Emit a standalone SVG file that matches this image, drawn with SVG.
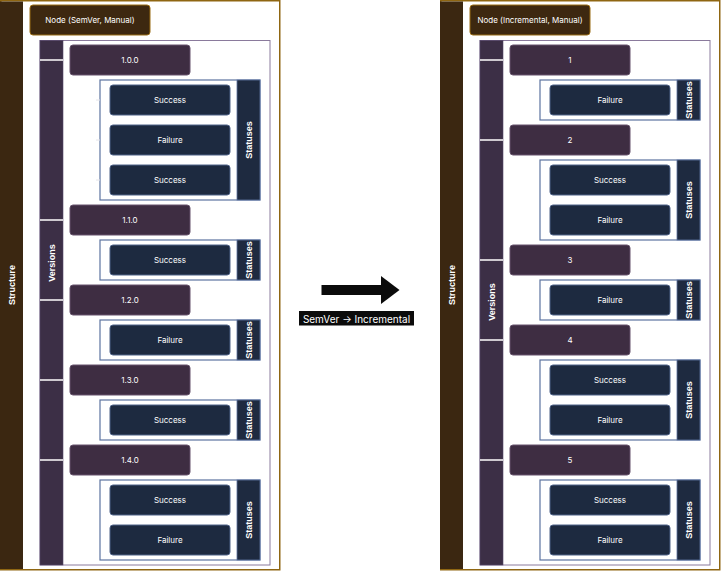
<svg xmlns="http://www.w3.org/2000/svg" width="721" height="572" viewBox="0 0 721 572">
<style>
.panel{fill:#ffffff;stroke:#8f6612;stroke-width:1.5}
.sband{fill:#3b2711}
.hdr{fill:#3d2810;stroke:#9a6c14;stroke-width:1}
.vbox{fill:#ffffff;stroke:#8a7a9c;stroke-width:1}
.vband{fill:#3c2f46;stroke:#55476a;stroke-width:0.6}
.ver{fill:#3e2d42;stroke:#66536c;stroke-width:1}
.sbox{fill:#ffffff;stroke:#5c73a0;stroke-width:1.2}
.stband{fill:#1e2a40;stroke:#5c73a0;stroke-width:0.8}
.st{fill:#1d2a40;stroke:#4e6288;stroke-width:1}
.sep{stroke:#ffffff;stroke-width:1.5}
.tick{stroke:#e4e4ea;stroke-width:1}
.lbl{font-family:Inter,"Liberation Sans",sans-serif;font-size:8px;fill:#ffffff;text-anchor:middle;dominant-baseline:central}
.blbl{font-family:"Liberation Sans",Arial,sans-serif;font-size:9px;font-weight:bold;fill:#ffffff;text-anchor:middle;dominant-baseline:central}
</style>
<defs>
<g id="dummy"/>
</defs>

<!-- LEFT PANEL -->
<g id="left-structure">
<rect class="panel" x="0.75" y="0.75" width="279" height="569"/>
<rect class="sband" x="0" y="1.5" width="23" height="567.5"/>
<text class="blbl" transform="translate(11.5,285) rotate(-90)">Structure</text>
</g>
<g id="left-node">
<rect class="hdr" x="30" y="5" width="120" height="30" rx="3"/>
<text class="lbl" x="90" y="20">Node (SemVer, Manual)</text>
</g>
<g id="left-versions">
<rect class="vbox" x="40" y="40.5" width="230" height="524.5"/>
<rect class="vband" x="40" y="40.5" width="23" height="524.5"/>
<text class="blbl" transform="translate(51.5,263) rotate(-90)">Versions</text>
</g>

<g id="l-v100"><rect class="ver" x="70" y="45" width="120" height="30" rx="3"/><text class="lbl" x="130" y="60">1.0.0</text></g>
<g id="l-s100">
<rect class="sbox" x="100" y="80" width="160" height="120"/>
<rect class="stband" x="237" y="80" width="23" height="120"/>
<text class="blbl" transform="translate(248.5,140) rotate(-90)">Statuses</text>
</g>
<g id="l-s100-1"><rect class="st" x="110" y="85" width="120" height="30" rx="3"/><text class="lbl" x="170" y="100">Success</text></g>
<g id="l-s100-2"><rect class="st" x="110" y="125" width="120" height="30" rx="3"/><text class="lbl" x="170" y="140">Failure</text></g>
<g id="l-s100-3"><rect class="st" x="110" y="165" width="120" height="30" rx="3"/><text class="lbl" x="170" y="180">Success</text></g>

<g id="l-v110"><rect class="ver" x="70" y="205" width="120" height="30" rx="3"/><text class="lbl" x="130" y="220">1.1.0</text></g>
<g id="l-s110">
<rect class="sbox" x="100" y="240" width="160" height="40"/>
<rect class="stband" x="237" y="240" width="23" height="40"/>
<text class="blbl" transform="translate(248.5,260) rotate(-90)">Statuses</text>
</g>
<g id="l-s110-1"><rect class="st" x="110" y="245" width="120" height="30" rx="3"/><text class="lbl" x="170" y="260">Success</text></g>

<g id="l-v120"><rect class="ver" x="70" y="285" width="120" height="30" rx="3"/><text class="lbl" x="130" y="300">1.2.0</text></g>
<g id="l-s120">
<rect class="sbox" x="100" y="320" width="160" height="40"/>
<rect class="stband" x="237" y="320" width="23" height="40"/>
<text class="blbl" transform="translate(248.5,340) rotate(-90)">Statuses</text>
</g>
<g id="l-s120-1"><rect class="st" x="110" y="325" width="120" height="30" rx="3"/><text class="lbl" x="170" y="340">Failure</text></g>

<g id="l-v130"><rect class="ver" x="70" y="365" width="120" height="30" rx="3"/><text class="lbl" x="130" y="380">1.3.0</text></g>
<g id="l-s130">
<rect class="sbox" x="100" y="400" width="160" height="40"/>
<rect class="stband" x="237" y="400" width="23" height="40"/>
<text class="blbl" transform="translate(248.5,420) rotate(-90)">Statuses</text>
</g>
<g id="l-s130-1"><rect class="st" x="110" y="405" width="120" height="30" rx="3"/><text class="lbl" x="170" y="420">Success</text></g>

<g id="l-v140"><rect class="ver" x="70" y="445" width="120" height="30" rx="3"/><text class="lbl" x="130" y="460">1.4.0</text></g>
<g id="l-s140">
<rect class="sbox" x="100" y="480" width="160" height="80"/>
<rect class="stband" x="237" y="480" width="23" height="80"/>
<text class="blbl" transform="translate(248.5,520) rotate(-90)">Statuses</text>
</g>
<g id="l-s140-1"><rect class="st" x="110" y="485" width="120" height="30" rx="3"/><text class="lbl" x="170" y="500">Success</text></g>
<g id="l-s140-2"><rect class="st" x="110" y="525" width="120" height="30" rx="3"/><text class="lbl" x="170" y="540">Failure</text></g>

<!-- RIGHT PANEL -->
<g id="right-structure">
<rect class="panel" x="440.75" y="0.75" width="279" height="569"/>
<rect class="sband" x="440" y="1.5" width="23" height="567.5"/>
<text class="blbl" transform="translate(451.5,285) rotate(-90)">Structure</text>
</g>
<g id="right-node">
<rect class="hdr" x="470" y="5" width="120" height="30" rx="3"/>
<text class="lbl" x="530" y="20">Node (Incremental, Manual)</text>
</g>
<g id="right-versions">
<rect class="vbox" x="480" y="40.5" width="230" height="524.5"/>
<rect class="vband" x="480" y="40.5" width="23" height="524.5"/>
<text class="blbl" transform="translate(491.5,302) rotate(-90)">Versions</text>
</g>

<g id="r-v1"><rect class="ver" x="510" y="45" width="120" height="30" rx="3"/><text class="lbl" x="570" y="60">1</text></g>
<g id="r-s1">
<rect class="sbox" x="540" y="80" width="160" height="40"/>
<rect class="stband" x="677" y="80" width="23" height="40"/>
<text class="blbl" transform="translate(688.5,100) rotate(-90)">Statuses</text>
</g>
<g id="r-s1-1"><rect class="st" x="550" y="85" width="120" height="30" rx="3"/><text class="lbl" x="610" y="100">Failure</text></g>

<g id="r-v2"><rect class="ver" x="510" y="125" width="120" height="30" rx="3"/><text class="lbl" x="570" y="140">2</text></g>
<g id="r-s2">
<rect class="sbox" x="540" y="160" width="160" height="80"/>
<rect class="stband" x="677" y="160" width="23" height="80"/>
<text class="blbl" transform="translate(688.5,200) rotate(-90)">Statuses</text>
</g>
<g id="r-s2-1"><rect class="st" x="550" y="165" width="120" height="30" rx="3"/><text class="lbl" x="610" y="180">Success</text></g>
<g id="r-s2-2"><rect class="st" x="550" y="205" width="120" height="30" rx="3"/><text class="lbl" x="610" y="220">Failure</text></g>

<g id="r-v3"><rect class="ver" x="510" y="245" width="120" height="30" rx="3"/><text class="lbl" x="570" y="260">3</text></g>
<g id="r-s3">
<rect class="sbox" x="540" y="280" width="160" height="40"/>
<rect class="stband" x="677" y="280" width="23" height="40"/>
<text class="blbl" transform="translate(688.5,300) rotate(-90)">Statuses</text>
</g>
<g id="r-s3-1"><rect class="st" x="550" y="285" width="120" height="30" rx="3"/><text class="lbl" x="610" y="300">Failure</text></g>

<g id="r-v4"><rect class="ver" x="510" y="325" width="120" height="30" rx="3"/><text class="lbl" x="570" y="340">4</text></g>
<g id="r-s4">
<rect class="sbox" x="540" y="360" width="160" height="80"/>
<rect class="stband" x="677" y="360" width="23" height="80"/>
<text class="blbl" transform="translate(688.5,400) rotate(-90)">Statuses</text>
</g>
<g id="r-s4-1"><rect class="st" x="550" y="365" width="120" height="30" rx="3"/><text class="lbl" x="610" y="380">Success</text></g>
<g id="r-s4-2"><rect class="st" x="550" y="405" width="120" height="30" rx="3"/><text class="lbl" x="610" y="420">Failure</text></g>

<g id="r-v5"><rect class="ver" x="510" y="445" width="120" height="30" rx="3"/><text class="lbl" x="570" y="460">5</text></g>
<g id="r-s5">
<rect class="sbox" x="540" y="480" width="160" height="80"/>
<rect class="stband" x="677" y="480" width="23" height="80"/>
<text class="blbl" transform="translate(688.5,520) rotate(-90)">Statuses</text>
</g>
<g id="r-s5-1"><rect class="st" x="550" y="485" width="120" height="30" rx="3"/><text class="lbl" x="610" y="500">Success</text></g>
<g id="r-s5-2"><rect class="st" x="550" y="525" width="120" height="30" rx="3"/><text class="lbl" x="610" y="540">Failure</text></g>

<!-- CONNECTORS -->
<g id="connectors">
<line class="sep" x1="40" y1="60" x2="63" y2="60"/>
<line class="sep" x1="40" y1="220" x2="63" y2="220"/>
<line class="sep" x1="40" y1="300" x2="63" y2="300"/>
<line class="sep" x1="40" y1="380" x2="63" y2="380"/>
<line class="sep" x1="40" y1="460" x2="63" y2="460"/>
<line class="sep" x1="480" y1="60" x2="503" y2="60"/>
<line class="sep" x1="480" y1="140" x2="503" y2="140"/>
<line class="sep" x1="480" y1="260" x2="503" y2="260"/>
<line class="sep" x1="480" y1="340" x2="503" y2="340"/>
<line class="sep" x1="480" y1="460" x2="503" y2="460"/>
<line class="tick" x1="96" y1="100" x2="100" y2="100"/>
<line class="tick" x1="96" y1="140" x2="100" y2="140"/>
<line class="tick" x1="96" y1="180" x2="100" y2="180"/>
</g>

<!-- TRANSITION ARROW -->
<g id="transition">
<rect x="321.5" y="285" width="61" height="10" fill="#0b0b0b"/>
<polygon points="381,276 399.5,290 381,304" fill="#0b0b0b"/>
<rect x="299" y="311" width="115" height="14.5" fill="#0b0b0b"/>
<text x="356.5" y="318.5" font-family="Inter,'Liberation Sans',sans-serif" font-size="10" fill="#ffffff" text-anchor="middle" dominant-baseline="central">SemVer → Incremental</text>
</g>
</svg>
